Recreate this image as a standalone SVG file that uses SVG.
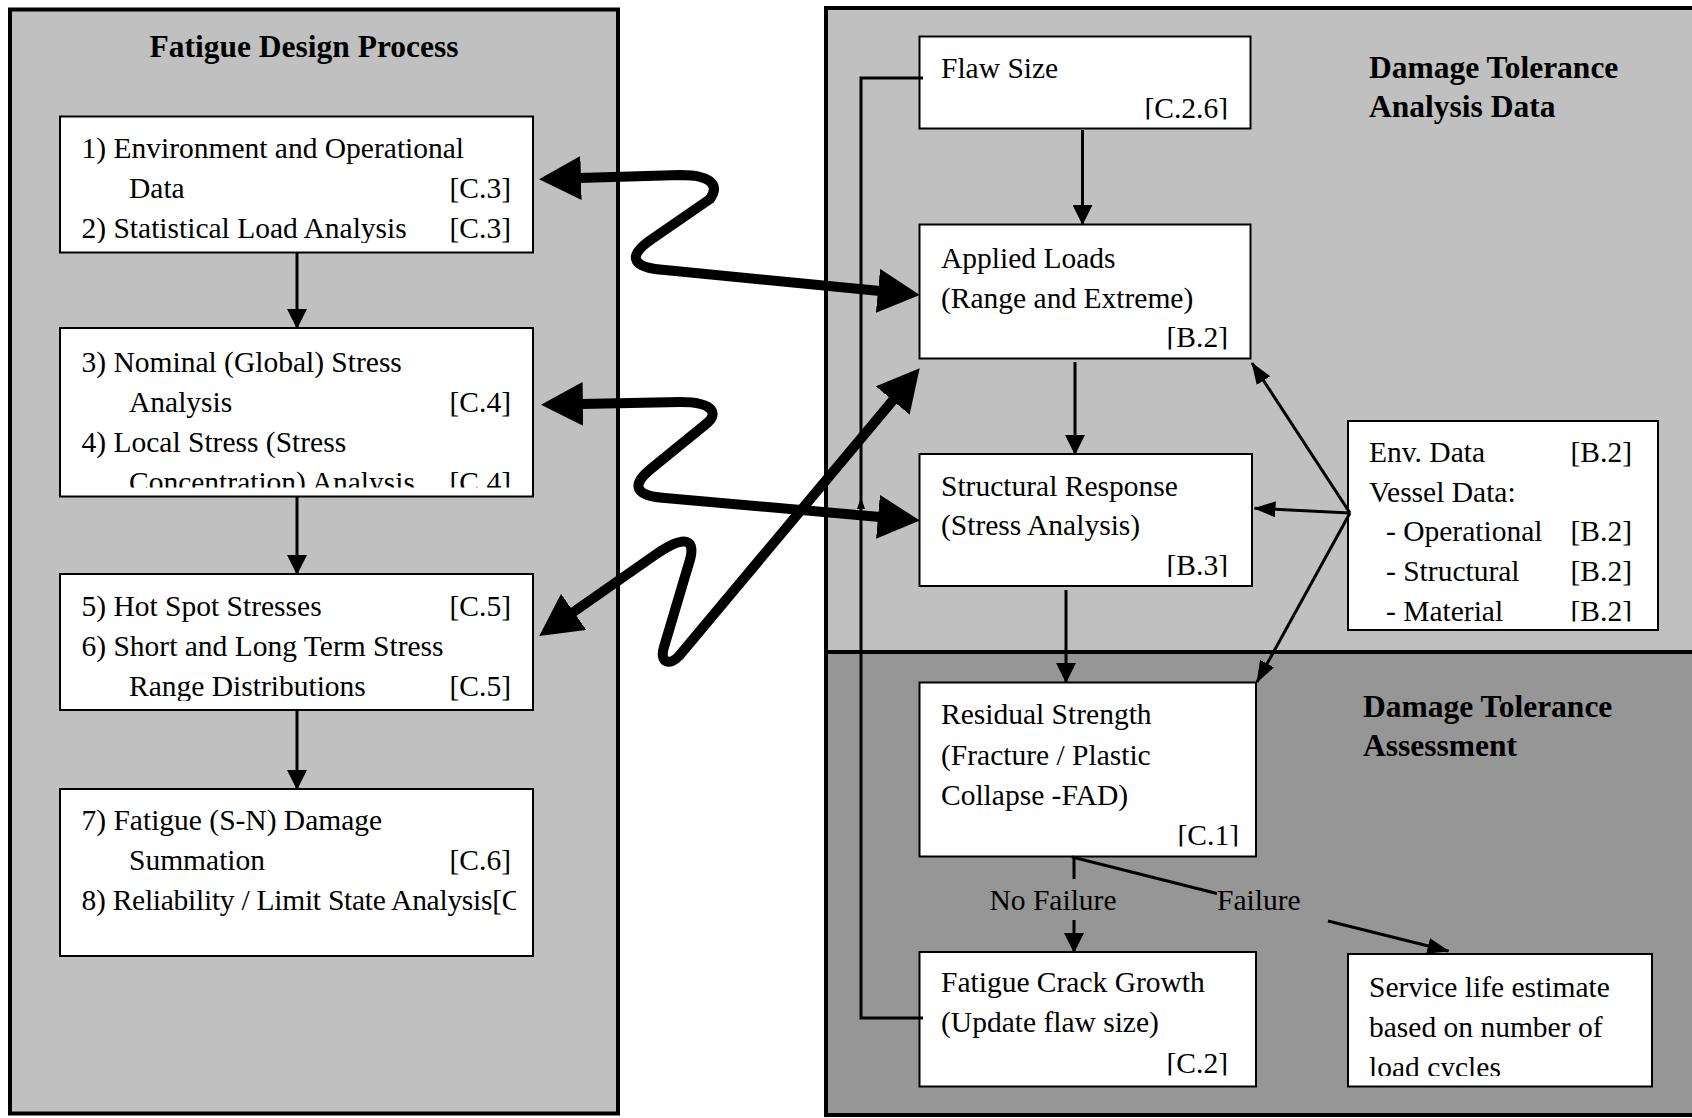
<svg xmlns="http://www.w3.org/2000/svg" width="1692" height="1118" viewBox="0 0 1692 1118">
<style>
.t{font-family:"Liberation Serif","Times New Roman",serif;font-size:29.5px;fill:#000}
.b{font-family:"Liberation Serif","Times New Roman",serif;font-size:31.5px;font-weight:bold;fill:#000}
.e{text-anchor:end}
.box{fill:#fff;stroke:#000;stroke-width:2}
.ln{fill:none;stroke:#000;stroke-width:3}
.thick{fill:none;stroke:#000;stroke-width:10;stroke-linejoin:round}
</style>
<defs>
<marker id="ah" markerUnits="userSpaceOnUse" markerWidth="20" markerHeight="20" viewBox="0 0 20 20" refX="19" refY="10" orient="auto"><path d="M0,0 L20,10 L0,20 z" fill="#000"/></marker>
<marker id="sm" markerUnits="userSpaceOnUse" markerWidth="22" markerHeight="16" viewBox="0 0 22 16" refX="21" refY="8" orient="auto"><path d="M0,0 L22,8 L0,16 z" fill="#000"/></marker>
<marker id="big" markerUnits="userSpaceOnUse" markerWidth="42" markerHeight="44" viewBox="0 0 42 44" refX="2" refY="22" orient="auto-start-reverse"><path d="M0,0 L42,22 L0,44 z" fill="#000"/></marker>
<clipPath id="c1"><rect x="60" y="116" width="456" height="127"/></clipPath>
<clipPath id="c2"><rect x="60" y="328" width="456" height="159.5"/></clipPath>
<clipPath id="c3"><rect x="60" y="574" width="456" height="127"/></clipPath>
<clipPath id="c4"><rect x="60" y="789" width="456" height="158"/></clipPath>
<clipPath id="c5"><rect x="920" y="36" width="320" height="83.5"/></clipPath>
<clipPath id="c6"><rect x="920" y="224" width="320" height="125.5"/></clipPath>
<clipPath id="c7"><rect x="920" y="454" width="320" height="123"/></clipPath>
<clipPath id="c8"><rect x="1348" y="421" width="300" height="200.5"/></clipPath>
<clipPath id="c9"><rect x="920" y="682" width="326" height="164.5"/></clipPath>
<clipPath id="c10"><rect x="920" y="952" width="326" height="123.5"/></clipPath>
<clipPath id="c11"><rect x="1348" y="954" width="296" height="122"/></clipPath>
</defs>

<g id="panels">
<rect x="10" y="9.5" width="608" height="1104" fill="#c0c0c0" stroke="#000" stroke-width="4"/>
<rect x="826" y="8" width="880" height="644" fill="#c0c0c0"/>
<rect x="826" y="652" width="880" height="463" fill="#969696"/>
<path d="M1700,8 L826,8 L826,1115 L1700,1115 M826,652 L1700,652" fill="none" stroke="#000" stroke-width="4"/>
<text class="b" x="304" y="57" text-anchor="middle">Fatigue Design Process</text>
<text class="b" x="1369" y="77.5">Damage Tolerance</text>
<text class="b" x="1369" y="117">Analysis Data</text>
<text class="b" x="1363" y="716.5">Damage Tolerance</text>
<text class="b" x="1363" y="756">Assessment</text>
</g>

<g id="node-env-op">
<rect class="box" x="60" y="116.5" width="473" height="136"/>
<g clip-path="url(#c1)">
<text class="t" x="81.5" y="158">1) Environment and Operational</text>
<text class="t" x="129" y="198">Data</text><text class="t e" x="511" y="198">[C.3]</text>
<text class="t" x="81.5" y="238">2) Statistical Load Analysis</text><text class="t e" x="511" y="238">[C.3]</text>
</g>
</g>

<g id="node-stress">
<rect class="box" x="60" y="328" width="473" height="168.5"/>
<g clip-path="url(#c2)">
<text class="t" x="81.5" y="372">3) Nominal (Global) Stress</text>
<text class="t" x="129" y="412">Analysis</text><text class="t e" x="511" y="412">[C.4]</text>
<text class="t" x="81.5" y="452">4) Local Stress (Stress</text>
<text class="t" x="129" y="492">Concentration) Analysis</text><text class="t e" x="511" y="492">[C.4]</text>
</g>
</g>

<g id="node-hotspot">
<rect class="box" x="60" y="574" width="473" height="136"/>
<g clip-path="url(#c3)">
<text class="t" x="81.5" y="616">5) Hot Spot Stresses</text><text class="t e" x="511" y="616">[C.5]</text>
<text class="t" x="81.5" y="656">6) Short and Long Term Stress</text>
<text class="t" x="129" y="696">Range Distributions</text><text class="t e" x="511" y="696">[C.5]</text>
</g>
</g>

<g id="node-fatigue">
<rect class="box" x="60" y="789" width="473" height="167"/>
<g clip-path="url(#c4)">
<text class="t" x="81.5" y="830">7) Fatigue (S-N) Damage</text>
<text class="t" x="129" y="870">Summation</text><text class="t e" x="511" y="870">[C.6]</text>
<text class="t" x="81.5" y="910" textLength="440">8) Reliability / Limit State Analysis[C</text>
</g>
</g>

<g id="node-flaw">
<rect class="box" x="919.5" y="36.5" width="331" height="92"/>
<g clip-path="url(#c5)">
<text class="t" x="941" y="78">Flaw Size</text>
<text class="t e" x="1228" y="118">[C.2.6]</text>
</g>
</g>

<g id="node-loads">
<rect class="box" x="919.5" y="224.5" width="331" height="134"/>
<g clip-path="url(#c6)">
<text class="t" x="941" y="268">Applied Loads</text>
<text class="t" x="941" y="307.5">(Range and Extreme)</text>
<text class="t e" x="1228" y="347">[B.2]</text>
</g>
</g>

<g id="node-response">
<rect class="box" x="919.5" y="454" width="332.5" height="132"/>
<g clip-path="url(#c7)">
<text class="t" x="941" y="495.5">Structural Response</text>
<text class="t" x="941" y="535">(Stress Analysis)</text>
<text class="t e" x="1228" y="575">[B.3]</text>
</g>
</g>

<g id="node-envdata">
<rect class="box" x="1348" y="421" width="310" height="209"/>
<g clip-path="url(#c8)">
<text class="t" x="1369" y="462">Env. Data</text><text class="t e" x="1632" y="462">[B.2]</text>
<text class="t" x="1369" y="501.5">Vessel Data:</text>
<text class="t" x="1386" y="541">- Operational</text><text class="t e" x="1632" y="541">[B.2]</text>
<text class="t" x="1386" y="581">- Structural</text><text class="t e" x="1632" y="581">[B.2]</text>
<text class="t" x="1386" y="621">- Material</text><text class="t e" x="1632" y="621">[B.2]</text>
</g>
</g>

<g id="node-residual">
<rect class="box" x="919.5" y="682.5" width="336.5" height="174"/>
<g clip-path="url(#c9)">
<text class="t" x="941" y="724">Residual Strength</text>
<text class="t" x="941" y="764.5">(Fracture / Plastic</text>
<text class="t" x="941" y="805">Collapse -FAD)</text>
<text class="t e" x="1239" y="845">[C.1]</text>
</g>
</g>

<g id="node-crack">
<rect class="box" x="919.5" y="952" width="336.5" height="134.5"/>
<g clip-path="url(#c10)">
<text class="t" x="941" y="992">Fatigue Crack Growth</text>
<text class="t" x="941" y="1032">(Update flaw size)</text>
<text class="t e" x="1228" y="1073">[C.2]</text>
</g>
</g>

<g id="node-service">
<rect class="box" x="1348" y="954" width="304" height="132.5"/>
<g clip-path="url(#c11)">
<text class="t" x="1369" y="996.5">Service life estimate</text>
<text class="t" x="1369" y="1036.5">based on number of</text>
<text class="t" x="1369" y="1077">load cycles</text>
</g>
</g>

<g id="connectors">
<path class="ln" d="M297,253 L297,328" marker-end="url(#ah)"/>
<path class="ln" d="M297,497 L297,574" marker-end="url(#ah)"/>
<path class="ln" d="M297,710 L297,789" marker-end="url(#ah)"/>
<path class="ln" d="M1082.5,130 L1082.5,224" marker-end="url(#ah)"/>
<path class="ln" d="M1075,362 L1075,454" marker-end="url(#ah)"/>
<path class="ln" d="M1066,590 L1066,682" marker-end="url(#ah)"/>
<path class="ln" d="M1350,513 L1252,363" marker-end="url(#sm)"/>
<path class="ln" d="M1350,513 L1254.5,508.3" marker-end="url(#sm)"/>
<path class="ln" d="M1350,513 L1257,682" marker-end="url(#sm)"/>
<path class="ln" d="M1074,857 L1074,879"/>
<path class="ln" d="M1074,920 L1074,952" marker-end="url(#ah)"/>
<path class="ln" stroke-width="3.5" d="M1072,857 L1217,893.5"/>
<path class="ln" stroke-width="3.5" d="M1328,921 L1448.5,951" marker-end="url(#sm)"/>
<path class="ln" stroke-width="3.5" d="M923,1018 L861,1018 L861,78 L923,78"/>
<path d="M861,497 L865,509 L857,509 z" fill="#000"/>
<path class="thick" d="M579,178 L680,175 C716,175 718,188 710,199 L652,239 C624,258 635,268 665,270 L880,291" marker-start="url(#big)" marker-end="url(#big)"/>
<path class="thick" d="M581,404 L680,402 C716,402 718,415 706,424 L652,468 C628,487 638,496 665,498 L880,517" marker-start="url(#big)" marker-end="url(#big)"/>
<path class="thick" d="M572,613 L655,555 C685,534 697,538 689,563 L664,647 C659,663 670,666 679,656 L894,399" marker-start="url(#big)" marker-end="url(#big)"/>
</g>
<g id="labels">
<text class="t" x="989.5" y="910">No Failure</text>
<text class="t" x="1217" y="910">Failure</text>
</g>
</svg>
